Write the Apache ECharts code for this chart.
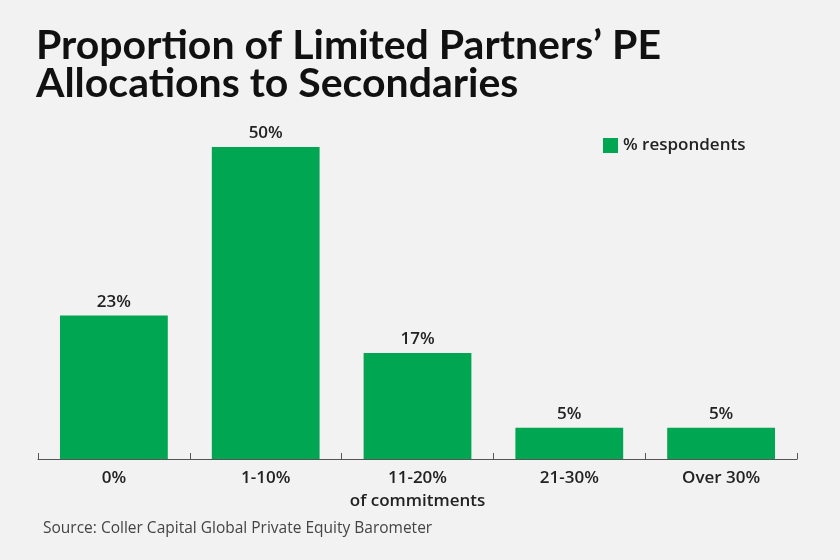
<!DOCTYPE html>
<html>
<head>
<meta charset="utf-8">
<script src="https://cdn.jsdelivr.net/npm/echarts@6/dist/echarts.min.js"></script>
<style>
  html, body { margin: 0; padding: 0; background: #f2f2f2; }
  #chart { width: 840px; height: 560px; }
</style>
</head>
<body>
<div id="chart"></div>
<script>
var categories = ['0%', '1-10%', '11-20%', '21-30%', 'Over 30%'];
var respondents = [23, 50, 17, 5, 5];
var seriesName = '% respondents';

var myChart = echarts.init(document.getElementById('chart'));

var option = {
  backgroundColor: '#f2f2f2',
  textStyle: { fontFamily: 'Open Sans' },
  title: {
    text: 'Proportion of Limited Partners\u2019 PE\nAllocations to Secondaries',
    left: 31,
    top: 22,
    textStyle: {
      fontFamily: 'Lato',
      fontWeight: 'bold',
      fontSize: 41,
      lineHeight: 38,
      color: '#111'
    }
  },
  legend: {
    data: [seriesName],
    left: 598,
    top: 132,
    itemWidth: 15,
    itemHeight: 15,
    icon: 'rect',
    itemGap: 9,
    textStyle: { fontFamily: 'Open Sans', fontSize: 17, color: '#222', fontWeight: 600 }
  },
  grid: {
    left: 38,
    right: 43,
    top: 84.6,
    bottom: 101
  },
  xAxis: {
    type: 'category',
    data: categories,
    axisLine: { lineStyle: { color: '#555', width: 1.2 } },
    axisTick: { show: true, inside: true, length: 6, lineStyle: { color: '#555' } },
    axisLabel: {
      interval: 0,
      color: '#222',
      fontFamily: 'Open Sans',
      fontWeight: 600,
      fontSize: 17,
      margin: 8,
      lineHeight: 23,
      formatter: function (v, i) {
        return i === 2 ? v + '\nof commitments' : v;
      }
    }
  },
  yAxis: {
    type: 'value',
    min: 0,
    max: 60,
    show: false
  },
  series: [{
    name: seriesName,
    type: 'bar',
    data: respondents,
    barCategoryGap: '29%',
    itemStyle: { color: '#00a651' },
    label: {
      show: true,
      position: 'top',
      distance: 5,
      formatter: '{c}%',
      color: '#222',
      fontFamily: 'Open Sans',
      fontWeight: 600,
      fontSize: 17
    }
  }],
  graphic: [{
    type: 'text',
    left: 43,
    top: 521,
    style: {
      text: 'Source: Coller Capital Global Private Equity Barometer',
      fontFamily: 'Open Sans',
      fontSize: 15.5,
      fill: '#444'
    }
  }]
};

myChart.setOption(option);
</script>
</body>
</html>
